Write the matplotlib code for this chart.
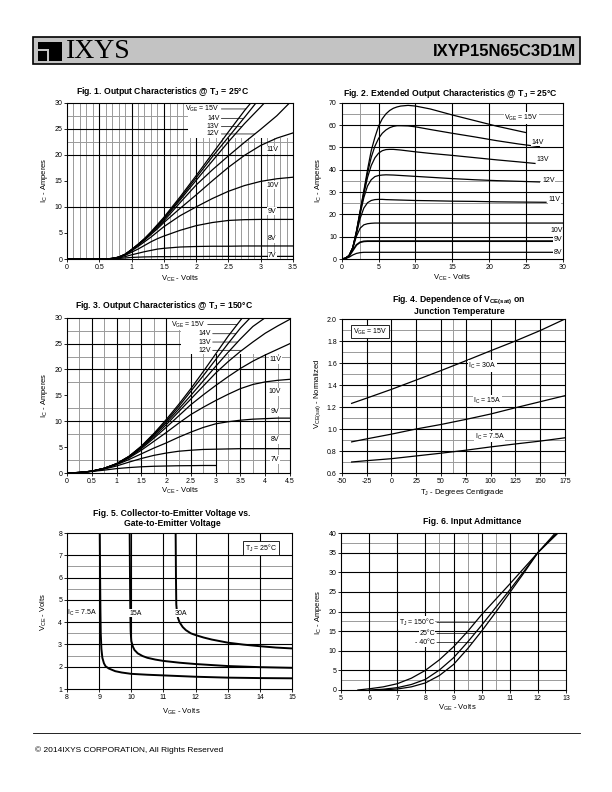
import numpy as np
import matplotlib
matplotlib.use('Agg')
import matplotlib.pyplot as plt
from matplotlib.patches import Rectangle

W, H = 612, 792

plt.rcParams['font.family'] = ['Liberation Sans', 'DejaVu Sans']
plt.rcParams['mathtext.fontset'] = 'custom'
plt.rcParams['mathtext.rm'] = 'Liberation Sans'

NARROW = ['Liberation Sans Narrow', 'Liberation Sans', 'DejaVu Sans']

# ================= DATA =================
# Fig. 1 - output characteristics @ TJ = 25C : VCE (V) -> IC (A)
fig1_vce = {
    '15V': [0, 0.5, 0.6, 0.7, 0.8, 0.9, 1.0, 1.1, 1.2, 1.3, 1.4, 1.5, 1.75, 2.0, 2.25, 2.5, 2.75, 2.85],
    '14V': [0, 0.5, 0.6, 0.7, 0.8, 0.9, 1.0, 1.1, 1.2, 1.3, 1.4, 1.5, 1.75, 2.0, 2.25, 2.5, 2.75, 2.93],
    '13V': [0, 0.5, 0.6, 0.7, 0.8, 0.9, 1.0, 1.1, 1.2, 1.3, 1.4, 1.5, 1.75, 2.0, 2.25, 2.5, 2.75, 3.0, 3.06],
    '12V': [0, 0.5, 0.6, 0.7, 0.8, 0.9, 1.0, 1.1, 1.2, 1.3, 1.4, 1.5, 1.75, 2.0, 2.25, 2.5, 2.75, 3.0, 3.25, 3.45],
    '11V': [0, 0.5, 0.6, 0.7, 0.8, 0.9, 1.0, 1.1, 1.2, 1.3, 1.4, 1.5, 1.75, 2.0, 2.25, 2.5, 2.75, 3.0, 3.25, 3.5],
    '10V': [0, 0.5, 0.6, 0.7, 0.8, 0.9, 1.0, 1.1, 1.2, 1.3, 1.4, 1.5, 1.75, 2.0, 2.25, 2.5, 2.75, 3.0, 3.25, 3.5],
    '9V': [0, 0.5, 0.6, 0.7, 0.8, 0.9, 1.0, 1.1, 1.2, 1.3, 1.4, 1.5, 1.75, 2.0, 2.25, 2.5, 2.75, 3.0, 3.25, 3.5],
    '8V': [0, 0.5, 0.6, 0.7, 0.8, 0.9, 1.0, 1.1, 1.2, 1.3, 1.4, 1.5, 1.75, 2.0, 2.25, 2.5, 2.75, 3.0, 3.25, 3.5],
    '7V': [0, 0.5, 0.6, 0.7, 0.8, 0.9, 1.0, 1.1, 1.2, 1.3, 1.4, 1.5, 1.75, 2.0, 2.25, 2.5, 2.75, 3.0, 3.25, 3.5],
}
fig1_ic = {
    '15V': [0, 0, 0.02, 0.1, 0.35, 0.9, 1.8, 2.8, 3.9, 5.2, 6.6, 8.0, 11.9, 16.0, 20.2, 24.4, 28.5, 30],
    '14V': [0, 0, 0.02, 0.1, 0.35, 0.9, 1.8, 2.8, 3.9, 5.1, 6.4, 7.8, 11.6, 15.6, 19.6, 23.4, 27.2, 30],
    '13V': [0, 0, 0.02, 0.1, 0.35, 0.9, 1.8, 2.8, 3.8, 5.0, 6.3, 7.6, 11.3, 15.1, 18.8, 22.5, 26.0, 29.2, 30],
    '12V': [0, 0, 0.02, 0.1, 0.35, 0.9, 1.75, 2.7, 3.8, 4.9, 6.1, 7.3, 10.8, 14.2, 17.1, 19.8, 22.4, 24.9, 27.5, 30],
    '11V': [0, 0, 0.02, 0.1, 0.35, 0.85, 1.7, 2.6, 3.6, 4.7, 5.8, 7.0, 9.7, 12.3, 15.0, 17.6, 19.9, 21.8, 23.2, 24.2],
    '10V': [0, 0, 0.02, 0.1, 0.33, 0.8, 1.55, 2.4, 3.3, 4.2, 5.2, 6.2, 8.3, 10.0, 11.6, 13.0, 14.1, 14.9, 15.4, 15.7],
    '9V': [0, 0, 0.02, 0.1, 0.3, 0.7, 1.3, 1.9, 2.6, 3.3, 3.9, 4.4, 5.5, 6.4, 7.0, 7.4, 7.55, 7.6, 7.6, 7.6],
    '8V': [0, 0, 0.02, 0.08, 0.2, 0.45, 0.8, 1.1, 1.4, 1.65, 1.9, 2.05, 2.3, 2.4, 2.45, 2.45, 2.5, 2.5, 2.5, 2.5],
    '7V': [0, 0, 0.01, 0.05, 0.1, 0.2, 0.3, 0.35, 0.4, 0.42, 0.45, 0.45, 0.47, 0.48, 0.5, 0.5, 0.5, 0.5, 0.5, 0.5],
}

# Fig. 2 - extended output characteristics @ TJ = 25C
fig2_vce = {
    '15V': [0, 0.5, 1, 1.5, 2, 2.5, 3, 3.5, 4, 4.5, 5, 5.5, 6, 6.5, 7, 7.5, 8, 9, 10, 12, 15, 18, 21, 25],
    '14V': [0, 0.5, 1, 1.5, 2, 2.5, 3, 3.5, 4, 4.5, 5, 5.5, 6, 6.5, 7, 7.5, 8, 9, 10, 12, 15, 18, 21, 24, 26.8],
    '13V': [0, 0.5, 1, 1.5, 2, 2.5, 3, 3.5, 4, 4.5, 5, 5.5, 6, 6.5, 7, 8, 10, 12, 15, 18, 21, 24, 26.2],
    '12V': [0, 0.5, 1, 1.5, 2, 2.5, 3, 3.5, 4, 4.5, 5, 5.5, 6, 7, 8, 10, 12, 15, 18, 21, 24, 26.8],
    '11V': [0, 0.5, 1, 1.5, 2, 2.5, 3, 3.5, 4, 4.5, 5, 5.5, 6, 8, 10, 12, 15, 18, 21, 24, 27.7],
    '10V': [0, 0.5, 1, 1.5, 2, 2.5, 3, 3.5, 4, 4.5, 5, 30],
    '9V': [0, 0.5, 1, 1.5, 2, 2.5, 3, 3.5, 4, 30],
    '8V': [0, 0.5, 1, 1.5, 2, 2.5, 3, 30],
}
fig2_ic = {
    '15V': [0, 0.3, 1.5, 5, 12.5, 21.5, 30.5, 40, 48.5, 54.5, 59.5, 62.8, 65, 66.5, 67.5, 68.1, 68.5, 68.8, 68.5, 67.2, 64.5, 62, 59.5, 56.6],
    '14V': [0, 0.3, 1.5, 5, 12.3, 21.2, 30, 38.5, 45.5, 50.5, 54, 56.3, 57.8, 58.8, 59.4, 59.7, 59.7, 59.6, 59.2, 58.0, 56.3, 54.7, 53.0, 51.5, 50.3],
    '13V': [0, 0.3, 1.5, 5, 12, 20.8, 29, 36.5, 41.8, 45.3, 47.4, 48.5, 49, 49.1, 49.1, 48.8, 48, 47.3, 46.4, 45.4, 44.4, 43.5, 42.8],
    '12V': [0, 0.3, 1.5, 5, 11.8, 20.2, 27.5, 32.7, 35.5, 36.9, 37.4, 37.6, 37.7, 37.6, 37.4, 37, 36.6, 36, 35.5, 35.1, 34.8, 34.5],
    '11V': [0, 0.3, 1.5, 5, 11.3, 18.2, 22.8, 25.2, 26.2, 26.6, 26.7, 26.7, 26.6, 26.4, 26.2, 26.1, 25.9, 25.8, 25.6, 25.5, 25.4],
    '10V': [0, 0.3, 1.4, 4.8, 10.2, 13.8, 15.3, 15.8, 16, 16.1, 16.1, 16.1],
    '9V': [0, 0.3, 1.3, 3.8, 6.3, 7.5, 7.9, 8, 8, 8],
    '8V': [0, 0.2, 0.8, 1.8, 2.5, 2.85, 3, 3],
}

# Fig. 3 - output characteristics @ TJ = 150C
fig3_vce = {
    '15V': [0, 0.25, 0.5, 0.75, 1.0, 1.25, 1.5, 1.75, 2.0, 2.25, 2.5, 2.75, 3.0, 3.25, 3.54],
    '14V': [0, 0.25, 0.5, 0.75, 1.0, 1.25, 1.5, 1.75, 2.0, 2.25, 2.5, 2.75, 3.0, 3.25, 3.5, 3.7],
    '13V': [0, 0.25, 0.5, 0.75, 1.0, 1.25, 1.5, 1.75, 2.0, 2.25, 2.5, 2.75, 3.0, 3.25, 3.5, 3.75, 4.0],
    '12V': [0, 0.25, 0.5, 0.75, 1.0, 1.25, 1.5, 1.75, 2.0, 2.25, 2.5, 2.75, 3.0, 3.25, 3.5, 3.75, 4.0, 4.25, 4.5],
    '11V': [0, 0.25, 0.5, 0.75, 1.0, 1.25, 1.5, 1.75, 2.0, 2.25, 2.5, 2.75, 3.0, 3.25, 3.5, 3.75, 4.0, 4.25, 4.5],
    '10V': [0, 0.25, 0.5, 0.75, 1.0, 1.25, 1.5, 1.75, 2.0, 2.25, 2.5, 2.75, 3.0, 3.25, 3.5, 3.75, 4.0, 4.25, 4.5],
    '9V': [0, 0.25, 0.5, 0.75, 1.0, 1.25, 1.5, 1.75, 2.0, 2.25, 2.5, 2.75, 3.0, 3.25, 3.5, 3.75, 4.0, 4.25, 4.5],
    '8V': [0, 0.25, 0.5, 0.75, 1.0, 1.25, 1.5, 1.75, 2.0, 2.25, 2.5, 2.75, 3.0, 3.25, 3.5, 3.75, 4.0, 4.25, 4.5],
    '7V': [0, 0.25, 0.5, 0.75, 1.0, 1.25, 1.5, 1.75, 2.0, 2.25, 2.5, 2.75, 3.0],
}
fig3_ic = {
    '15V': [0, 0.1, 0.35, 0.9, 1.8, 3.2, 5.2, 7.6, 10.3, 13.2, 16.3, 19.6, 23.0, 26.4, 30],
    '14V': [0, 0.1, 0.35, 0.9, 1.8, 3.2, 5.1, 7.5, 10.0, 12.8, 15.8, 18.8, 21.9, 25.0, 28.0, 30],
    '13V': [0, 0.1, 0.35, 0.9, 1.8, 3.2, 5.0, 7.3, 9.7, 12.3, 15.0, 17.8, 20.6, 23.3, 25.9, 28.3, 30],
    '12V': [0, 0.1, 0.35, 0.9, 1.75, 3.1, 4.9, 7.0, 9.3, 11.8, 14.3, 16.8, 19.3, 21.5, 23.5, 25.3, 27.0, 28.4, 29.7],
    '11V': [0, 0.1, 0.35, 0.9, 1.75, 3.0, 4.7, 6.7, 8.8, 11.0, 13.2, 15.1, 16.9, 18.6, 20.2, 21.6, 22.8, 23.9, 25.0],
    '10V': [0, 0.1, 0.35, 0.9, 1.7, 2.9, 4.4, 6.1, 7.8, 9.6, 11.3, 12.7, 14.0, 15.2, 16.3, 17.1, 17.6, 17.9, 18.1],
    '9V': [0, 0.1, 0.35, 0.85, 1.6, 2.6, 3.7, 4.8, 5.8, 6.9, 7.9, 8.8, 9.5, 9.9, 10.2, 10.4, 10.5, 10.6, 10.6],
    '8V': [0, 0.1, 0.3, 0.75, 1.35, 2.1, 2.8, 3.4, 3.85, 4.2, 4.4, 4.55, 4.6, 4.65, 4.7, 4.7, 4.7, 4.7, 4.7],
    '7V': [0, 0.1, 0.3, 0.55, 0.85, 1.05, 1.2, 1.3, 1.35, 1.4, 1.42, 1.45, 1.45],
}

# Fig. 4 - normalized VCE(sat) vs junction temperature
fig4_tj = [-40, -25, 0, 25, 50, 75, 100, 125, 150, 175]
fig4_30a = [1.233, 1.28, 1.36, 1.445, 1.531, 1.62, 1.711, 1.80, 1.895, 2.0]
fig4_15a = [0.883, 0.91, 0.953, 1.0, 1.041, 1.087, 1.136, 1.193, 1.248, 1.303]
fig4_7a5 = [0.70, 0.712, 0.73, 0.755, 0.78, 0.807, 0.837, 0.864, 0.89, 0.92]

# Fig. 5 - VCE vs VGE @ TJ = 25C
fig5_vge_7a5 = [9.02, 9.03, 9.04, 9.05, 9.07, 9.1, 9.15, 9.2, 9.3, 9.5, 9.7, 10, 10.5, 11, 12, 13, 14, 15]
fig5_vce_7a5 = [8, 6, 4.5, 3.5, 2.8, 2.4, 2.15, 2.02, 1.92, 1.8, 1.74, 1.68, 1.64, 1.61, 1.55, 1.51, 1.49, 1.48]
fig5_vge_15a = [9.95, 9.96, 9.97, 9.98, 10.0, 10.05, 10.1, 10.2, 10.35, 10.5, 10.75, 11, 11.5, 12, 13, 14, 15]
fig5_vce_15a = [8, 6, 4.5, 3.6, 3.15, 2.9, 2.75, 2.6, 2.48, 2.4, 2.32, 2.26, 2.18, 2.12, 2.03, 1.98, 1.95]
fig5_vge_30a = [11.38, 11.39, 11.4, 11.42, 11.45, 11.5, 11.6, 11.7, 11.85, 12, 12.25, 12.5, 13, 13.5, 14, 14.5, 15]
fig5_vce_30a = [8, 6, 4.8, 4.45, 4.2, 4.0, 3.78, 3.64, 3.5, 3.42, 3.31, 3.22, 3.08, 2.99, 2.92, 2.86, 2.82]

# Fig. 6 - input admittance
fig6_vge_150 = [5.6, 6, 6.5, 7, 7.5, 8, 8.5, 9, 9.5, 10, 10.5, 11, 11.5, 12, 12.72]
fig6_ic_150 = [0, 0.3, 0.8, 1.6, 3.0, 5.0, 7.7, 11.0, 14.9, 19.2, 23.1, 27.0, 31.0, 35.0, 40]
fig6_vge_25 = [6.0, 6.5, 7, 7.5, 8, 8.5, 9, 9.5, 10, 10.5, 11, 11.5, 12, 12.67]
fig6_ic_25 = [0, 0.2, 0.6, 1.4, 2.7, 5.1, 8.2, 12.2, 16.5, 21.0, 25.5, 30.2, 35.0, 40]
fig6_vge_m40 = [6.3, 6.5, 7, 7.5, 8, 8.5, 9, 9.5, 10, 10.5, 11, 11.5, 12, 12.62]
fig6_ic_m40 = [0, 0.05, 0.25, 0.8, 1.8, 3.7, 6.5, 10.5, 15.0, 19.8, 24.8, 29.8, 35.0, 40]

# ================= PAGE =================
fig = plt.figure(figsize=(W / 100, H / 100), dpi=100)
page = fig.add_axes([0, 0, 1, 1])
page.set_xlim(0, W)
page.set_ylim(H, 0)
page.axis('off')


def sub(s):
    return r'$_{\mathregular{%s}}$' % s


def panel(l, t, r, b, xlim, ylim, xticks, yticks, yfmt='%g'):
    ax = fig.add_axes([l / W, 1 - b / H, (r - l) / W, (b - t) / H])
    ax.set_xlim(xlim)
    ax.set_ylim(ylim)
    ax.set_xticks(xticks)
    ax.set_xticklabels(['%g' % v for v in xticks])
    ax.set_yticks(yticks)
    ax.set_yticklabels([yfmt % v for v in yticks])
    ax.tick_params(direction='out', length=2, width=0.6, labelsize=5, pad=1.5)
    for s in ax.spines.values():
        s.set_linewidth(0.8)
        s.set_zorder(6)
    return ax


def grid(ax, bx, by, gx=(), gy=()):
    for v in gx:
        ax.axvline(v, color='#9a9a9a', lw=0.7, zorder=1)
    for v in gy:
        ax.axhline(v, color='#9a9a9a', lw=0.7, zorder=1)
    for v in bx:
        ax.axvline(v, color='black', lw=0.8, zorder=1.2)
    for v in by:
        ax.axhline(v, color='black', lw=0.8, zorder=1.2)


def label(ax, text, x, y, fs=5, ha='center', box=False):
    bb = dict(fc='white', ec='black' if box else 'none', lw=0.6, pad=1.2 if box else 0.4)
    ax.text(x, y, text, fontsize=fs, ha=ha, va='center', bbox=bb, zorder=5)


def leader(ax, text, x_text, y, x_curve, fs=5):
    ax.annotate(text, xy=(x_curve, y), xytext=(x_text, y), ha='right', va='center', fontsize=fs,
                bbox=dict(fc='white', ec='none', pad=0.4),
                arrowprops=dict(arrowstyle='-', lw=0.5, color='black', shrinkA=1, shrinkB=0),
                zorder=5)


def titles(lines, cx, ys):
    for txt, y in zip(lines, ys):
        page.text(cx, y, txt, family=NARROW, weight='bold', fontsize=6.2, ha='center', va='center')


def axis_labels(xl, xpos, yl, ypos):
    page.text(xpos[0], xpos[1], xl, fontsize=5.5, ha='center', va='center')
    page.text(ypos[0], ypos[1], yl, fontsize=5.5, ha='center', va='center', rotation=90)


# header
page.add_patch(Rectangle((33, 37), 547, 27, fc='#c3c3c3', ec='black', lw=1.2))
page.add_patch(Rectangle((38, 42), 24, 19, fc='black', ec='none'))
page.add_patch(Rectangle((38, 49), 11, 2, fc='#c3c3c3', ec='none'))
page.add_patch(Rectangle((47, 49), 2, 12, fc='#c3c3c3', ec='none'))
page.text(66, 51, 'IXYS', family=['Liberation Serif', 'DejaVu Serif'], fontsize=20, ha='left', va='center')
page.text(576, 51, 'IXYP15N65C3D1M', weight='bold', fontsize=12, ha='right', va='center')

# ---------- Fig. 1 ----------
ax1 = panel(67, 102.7, 293, 259, (0, 3.5), (0, 30), np.arange(0, 3.51, 0.5), range(0, 31, 5))
grid(ax1, [0.5, 1, 1.5, 2, 2.5, 3], [10, 20, 25],
     [v / 10 for v in range(1, 35) if v % 5], [22.5, 27.5])
ax1.add_patch(Rectangle((1.87, 23.3), 1.63, 6.7, fc='white', ec='none', zorder=2))
for k in fig1_vce:
    ax1.plot(fig1_vce[k], fig1_ic[k], color='black', lw=0.9, zorder=3)
for k, y, txt in [('15V', 28.8, 'V' + sub('GE') + ' = 15V'), ('14V', 27.0, '14V'),
                  ('13V', 25.4, '13V'), ('12V', 24.0, '12V')]:
    leader(ax1, txt, 2.36, y, np.interp(y, fig1_ic[k], fig1_vce[k]))
for txt, y in [('11V', 21.0), ('10V', 14.2), ('9V', 9.2), ('8V', 3.85), ('7V', 0.65)]:
    label(ax1, txt, 3.18, y)
titles(['Fig. 1. Output Characteristics @ T' + sub('J') + ' = 25°C'], 163, [92])
axis_labels('V' + sub('CE') + ' - Volts', (180, 279), 'I' + sub('C') + ' - Amperes', (44, 180))

# ---------- Fig. 2 ----------
ax2 = panel(341.7, 102.7, 563, 259, (0, 30), (0, 70), range(0, 31, 5), range(0, 71, 10))
grid(ax2, [5, 10, 15, 20, 25], [10, 20, 30, 40, 50, 60], [2.5], [25, 35, 65])
for k in fig2_vce:
    ax2.plot(fig2_vce[k], fig2_ic[k], color='black', lw=1.3 if k == '9V' else 0.9, zorder=3)
for txt, x, y in [('V' + sub('GE') + ' = 15V', 24.4, 63.1), ('14V', 26.6, 52.3), ('13V', 27.3, 44.4),
                  ('12V', 28.0, 35.1), ('11V', 28.9, 26.5), ('10V', 29.1, 12.7),
                  ('9V', 29.3, 8.8), ('8V', 29.3, 2.8)]:
    label(ax2, txt, x, y)
titles(['Fig. 2. Extended Output Characteristics @ T' + sub('J') + ' = 25°C'], 450, [93])
axis_labels('V' + sub('CE') + ' - Volts', (452, 278), 'I' + sub('C') + ' - Amperes', (318, 180))

# ---------- Fig. 3 ----------
ax3 = panel(67, 317.7, 290, 473, (0, 4.5), (0, 30), np.arange(0, 4.51, 0.5), range(0, 31, 5))
grid(ax3, [0.5, 1, 1.5, 2, 2.5, 3, 3.5, 4], [10, 20, 25],
     [v / 4 for v in range(1, 18) if v % 2], [2.5, 7.5, 12.5, 17.5, 22.5, 27.5])
ax3.add_patch(Rectangle((2.3, 23.0), 2.2, 7.0, fc='white', ec='none', zorder=2))
for k in fig3_vce:
    ax3.plot(fig3_vce[k], fig3_ic[k], color='black', lw=0.9, zorder=3)
for k, x, y, txt in [('15V', 2.8, 28.7, 'V' + sub('GE') + ' = 15V'), ('14V', 2.9, 26.9, '14V'),
                     ('13V', 2.9, 25.3, '13V'), ('12V', 2.9, 23.7, '12V')]:
    leader(ax3, txt, x, y, np.interp(y, fig3_ic[k], fig3_vce[k]))
for txt, y in [('11V', 21.9), ('10V', 15.7), ('9V', 11.8), ('8V', 6.4), ('7V', 2.6)]:
    label(ax3, txt, 4.2, y)
titles(['Fig. 3. Output Characteristics @ T' + sub('J') + ' = 150°C'], 164, [305])
axis_labels('V' + sub('CE') + ' - Volts', (180, 491), 'I' + sub('C') + ' - Amperes', (44, 395))

# ---------- Fig. 4 ----------
ax4 = panel(341.7, 319, 565, 473, (-50, 175), (0.6, 2.0), range(-50, 176, 25),
            np.arange(0.6, 2.01, 0.2), yfmt='%.1f')
grid(ax4, range(-25, 175, 25), [0.8, 1.0, 1.2, 1.4, 1.6, 1.8],
     [62.5], [0.7, 0.9, 1.1, 1.3, 1.5, 1.7, 1.9])
for series in (fig4_30a, fig4_15a, fig4_7a5):
    ax4.plot(fig4_tj, series, color='black', lw=0.9, zorder=3)
label(ax4, 'V' + sub('GE') + ' = 15V', -21.5, 1.885, box=True)
label(ax4, 'I' + sub('C') + ' = 30A', 91.8, 1.573)
label(ax4, 'I' + sub('C') + ' = 15A', 96.7, 1.255)
label(ax4, 'I' + sub('C') + ' = 7.5A', 99.0, 0.93)
titles(['Fig. 4. Dependence of V' + sub('CE(sat)') + ' on', 'Junction Temperature'], 459, [300, 311])
axis_labels('T' + sub('J') + ' - Degrees Centigrade', (462, 493),
            'V' + sub('CE(sat)') + ' - Normalized', (318, 394))

# ---------- Fig. 5 ----------
ax5 = panel(67, 533, 292, 689, (8, 15), (1, 8), range(8, 16), range(1, 9))
grid(ax5, range(9, 15), range(2, 8), [], [2.5, 3.5, 5.5, 6.5])
for vx, vy in [(fig5_vge_7a5, fig5_vce_7a5), (fig5_vge_15a, fig5_vce_15a), (fig5_vge_30a, fig5_vce_30a)]:
    ax5.plot(vx, vy, color='black', lw=1.4, zorder=3)
label(ax5, 'I' + sub('C') + ' = 7.5A', 8.46, 4.4)
label(ax5, '15A', 10.14, 4.4)
label(ax5, '30A', 11.54, 4.4)
label(ax5, 'T' + sub('J') + ' = 25°C', 14.03, 7.33, box=True)
titles(['Fig. 5. Collector-to-Emitter Voltage vs.', 'Gate-to-Emitter Voltage'], 172, [513, 524])
axis_labels('V' + sub('GE') + ' - Volts', (181, 712), 'V' + sub('CE') + ' - Volts', (44, 612))

# ---------- Fig. 6 ----------
ax6 = panel(341, 533, 566, 690, (5, 13), (0, 40), range(5, 14), range(0, 41, 5))
grid(ax6, range(6, 13), range(5, 40, 5), [8.5, 9.5, 10.5], [2.5, 17.5, 37.5])
for vx, vy in [(fig6_vge_150, fig6_ic_150), (fig6_vge_25, fig6_ic_25), (fig6_vge_m40, fig6_ic_m40)]:
    ax6.plot(vx, vy, color='black', lw=0.9, zorder=3)
leader(ax6, 'T' + sub('J') + ' = 150°C', 8.34, 17.2, np.interp(17.2, fig6_ic_150, fig6_vge_150))
leader(ax6, '25°C', 8.34, 14.4, np.interp(14.4, fig6_ic_25, fig6_vge_25))
leader(ax6, '- 40°C', 8.34, 12.1, np.interp(12.1, fig6_ic_m40, fig6_vge_m40))
titles(['Fig. 6. Input Admittance'], 472, [522])
axis_labels('V' + sub('GE') + ' - Volts', (457, 708), 'I' + sub('C') + ' - Amperes', (318, 612))

# footer
page.plot([33, 580], [733, 733], color='black', lw=0.6)
page.text(35, 750, '© 2014IXYS CORPORATION, All Rights Reserved', fontsize=6, ha='left', va='center')

fig.savefig('out.png', dpi=100)
